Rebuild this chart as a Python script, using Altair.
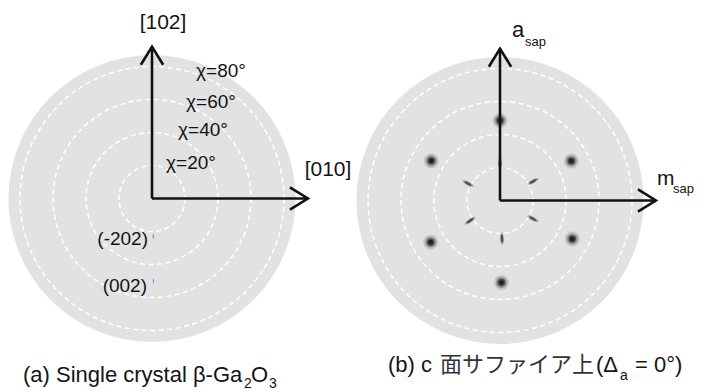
import altair as alt
import pandas as pd

# ---------------- data ----------------
ring_chi = [20, 40, 60, 80]          # dashed chi circles
disk_chi = [87]                      # outer edge of the pole-figure disk
ring_labels = ["χ=20°", "χ=40°", "χ=60°", "χ=80°"]

# panel (a): single crystal beta-Ga2O3
a_spot_label = ["(-202)", "(002)"]
a_spot_phi = [272, 271]
a_spot_chi = [23, 50]

# panel (b): c-plane sapphire
b_spot_phi = [90, 29, 332, 271, 211, 150]
b_spot_chi = [48.5, 49.4, 49.6, 49.7, 49.0, 48.1]
b_streak_phi = [90, 30, 331, 273, 214, 152]
b_streak_chi = [22.4, 23.1, 22.8, 23.1, 21.9, 21.9]

arrow_name = ["up", "right"]
arrow_len = [92, 94.5]

# ---------------- layout ----------------
PX = 1.65          # pixels per chi degree
W, H = 347, 376
FONT = "Liberation Sans"
INK = "#141414"

size_scale = alt.Scale(type="pow", exponent=2, domain=[0, 100],
                       range=[0, (2 * PX * 100) ** 2])

ELLIPSE = "M -1 0 A 1 0.3 0 1 1 1 0 A 1 0.3 0 1 1 -1 0 Z"
CHEVRON = "M -0.62 1 L 0 0 L 0.62 1"


def scales(cx, cy):
    xs = alt.Scale(domain=[-cx / PX, (W - cx) / PX], nice=False, zero=False)
    ys = alt.Scale(domain=[(cy - H) / PX, cy / PX], nice=False, zero=False)
    return xs, ys


def note(txt, px, py, size, align="left", font=FONT, color=INK):
    return alt.Chart(alt.Data(values=[{}])).mark_text(
        text=txt, font=font, fontSize=size, align=align, baseline="alphabetic",
        color=color,
    ).encode(x=alt.value(px), y=alt.value(py))


def base_layers(cx, cy):
    xs, ys = scales(cx, cy)
    X = lambda f: alt.X(f, type="quantitative", scale=xs, axis=None)
    Y = lambda f: alt.Y(f, type="quantitative", scale=ys, axis=None)

    disk = alt.Chart(pd.DataFrame({"chi": disk_chi})).transform_calculate(
        zx="0", zy="0"
    ).mark_point(shape="circle", filled=True, color="#e2e2e2", opacity=1, strokeWidth=0).encode(
        x=X("zx"), y=Y("zy"),
        size=alt.Size("chi:Q", scale=size_scale, legend=None),
    )
    rings = alt.Chart(pd.DataFrame({"chi": ring_chi})).transform_calculate(
        zx="0", zy="0"
    ).mark_point(shape="circle", filled=False, color="white", opacity=1,
                 strokeWidth=1.5, strokeDash=[5, 3.5]).encode(
        x=X("zx"), y=Y("zy"),
        size=alt.Size("chi:Q", scale=size_scale, legend=None),
    )
    arrows_df = pd.DataFrame({"name": arrow_name, "len": arrow_len})
    arr = alt.Chart(arrows_df).transform_calculate(
        x0="0", y0="0",
        x1="datum.name == 'right' ? datum.len : 0",
        y1="datum.name == 'up' ? datum.len : 0",
        hang="datum.name == 'right' ? 90 : 0",
    )
    shafts = arr.mark_rule(color="#111", strokeWidth=2.6).encode(
        x=X("x0"), y=Y("y0"), x2="x1:Q", y2="y1:Q"
    )
    heads = arr.mark_point(shape=CHEVRON, filled=False, color="#111", opacity=1,
                           strokeWidth=2.6, size=1296, strokeJoin="miter").encode(
        x=X("x1"), y=Y("y1"), angle=alt.Angle("hang:Q", scale=None)
    )
    return X, Y, [disk, rings], [shafts, heads]


def spot_layer(X, Y, df, shape, sizes, opacities, color, radial=False):
    ch = alt.Chart(df).transform_calculate(
        px="datum.chi * cos(datum.phi * PI / 180)",
        py="datum.chi * sin(datum.phi * PI / 180)",
        ang="(360 - datum.phi) % 360",
    )
    out = []
    for s, o in zip(sizes, opacities):
        enc = dict(x=X("px"), y=Y("py"))
        if radial:
            enc["angle"] = alt.Angle("ang:Q", scale=None)
        out.append(ch.mark_point(shape=shape, filled=True, color=color, opacity=o,
                                 strokeWidth=0, size=s).encode(**enc))
    return out


# ---------------- panel (a) ----------------
cxa, cya = 144, 190.5
Xa, Ya, bga, fga = base_layers(cxa, cya)
a_df = pd.DataFrame({"label": a_spot_label, "phi": a_spot_phi, "chi": a_spot_chi})
a_spots = spot_layer(Xa, Ya, a_df, ELLIPSE, [30, 14], [0.4, 0.85], "#8a8a8a", radial=True)

a_notes = [
    note("[102]", 155, 21, 21, align="center"),
    note("[010]", 320, 168, 21, align="center"),
    note(ring_labels[3], 213, 69, 19, align="center"),
    note(ring_labels[2], 203, 99.5, 19, align="center"),
    note(ring_labels[1], 195, 128, 19, align="center"),
    note(ring_labels[0], 183, 161, 19, align="center"),
    note(a_spot_label[0], 140, 237, 19, align="right"),
    note(a_spot_label[1], 139, 283.5, 19, align="right"),
    note("(a) Single crystal β-Ga", 15, 374, 22),
    note("2", 236, 380, 14),
    note("O", 243, 374, 22),
    note("3", 261, 380, 14),
]
panel_a = alt.layer(*bga, *a_spots, *fga, *a_notes).properties(width=W, height=H)

# ---------------- panel (b) ----------------
cxb, cyb = 145, 192.5
Xb, Yb, bgb, fgb = base_layers(cxb, cyb)
b_spots_df = pd.DataFrame({"phi": b_spot_phi, "chi": b_spot_chi})
b_streak_df = pd.DataFrame({"phi": b_streak_phi, "chi": b_streak_chi})
b_spots = spot_layer(Xb, Yb, b_spots_df, "circle", [225, 120, 56, 22],
                     [0.15, 0.3, 0.55, 0.9], "#1c1c1c")
b_streaks = spot_layer(Xb, Yb, b_streak_df, ELLIPSE, [160, 72],
                       [0.3, 0.75], "#333333", radial=True)

b_notes = [
    note("a", 157, 29, 22),
    note("sap", 170, 38, 13),
    note("m", 302, 177, 21),
    note("sap", 318, 185, 13),
    note("(b) c", 33, 364, 22),
    note("面サファイア上", 85, 364, 22, font="Noto Sans CJK JP", color="#333333"),
    note("(Δ", 241, 364, 22),
    note("a", 265, 372, 14),
    note("= 0°)", 280, 364, 22),
]
panel_b = alt.layer(*bgb, *b_spots, *b_streaks, *fgb, *b_notes).properties(width=W, height=H)

chart = alt.hconcat(panel_a, panel_b, spacing=0, bounds="flush", padding=0).resolve_scale(
    x="independent", y="independent", size="independent"
).configure_view(stroke=None)

chart.save("out.html", embed_options={"renderer": "svg", "actions": False})
